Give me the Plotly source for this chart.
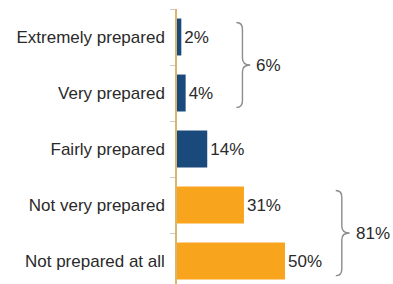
import plotly.graph_objects as go

categories = ["Extremely prepared", "Very prepared", "Fairly prepared",
              "Not very prepared", "Not prepared at all"]
values = [2, 4, 14, 31, 50]
bar_colors = ["#1a4a7c", "#1a4a7c", "#1a4a7c", "#f8a51d", "#f8a51d"]
groups = [(0, 1, "6%"), (3, 4, "81%")]

FONT = "Liberation Sans, Arial, sans-serif"
TXT = "#2a2a2a"
FS = 17

idx = list(range(len(categories)))

fig = go.Figure(go.Bar(
    x=values, y=idx, orientation="h",
    marker=dict(color=bar_colors, line=dict(width=0)),
    width=0.66,
    text=[f"{v}%" for v in values], textposition="outside",
    textfont=dict(family=FONT, size=FS, color=TXT),
    cliponaxis=False, hoverinfo="skip",
))

shapes = []
annotations = []
for g0, g1, lab in groups:
    gmax = max(values[g0:g1 + 1])
    x0 = gmax + 23.5
    xs = x0 + 2.8
    xp = xs + 3.6
    yt = g0 - 0.26
    yb = g1 + 0.26
    ym = (g0 + g1) / 2
    r = 0.12
    path = (f"M {x0},{yt} Q {xs},{yt} {xs},{yt + r} L {xs},{ym - r} "
            f"Q {xs},{ym} {xp},{ym} Q {xs},{ym} {xs},{ym + r} "
            f"L {xs},{yb - r} Q {xs},{yb} {x0},{yb}")
    shapes.append(dict(type="path", path=path, xref="x", yref="y",
                       line=dict(color="#8c8c8c", width=1.4)))
    annotations.append(dict(x=xp, y=ym, xref="x", yref="y", text=lab,
                            showarrow=False, xanchor="left", xshift=4,
                            font=dict(family=FONT, size=FS, color=TXT)))

fig.update_layout(
    width=393, height=284,
    margin=dict(l=177, r=0, t=9, b=0),
    paper_bgcolor="white", plot_bgcolor="white",
    showlegend=False,
    shapes=shapes, annotations=annotations,
    xaxis=dict(range=[0, 100], visible=False, showgrid=False, zeroline=False),
    yaxis=dict(
        range=[4.41, -0.5],
        tickvals=idx, ticktext=categories,
        tickfont=dict(family=FONT, size=FS, color=TXT),
        ticks="", showgrid=False, zeroline=False,
        showline=True, linecolor="#d9b66c", linewidth=1.5,
        ticklabelstandoff=7,
        minor=dict(tickvals=[i - 0.5 for i in idx], ticks="outside",
                   ticklen=5, tickcolor="#cccccc", tickwidth=1),
    ),
)

fig.write_html("out.html", config={"displayModeBar": False},
               post_script="document.body.style.margin='0';")
